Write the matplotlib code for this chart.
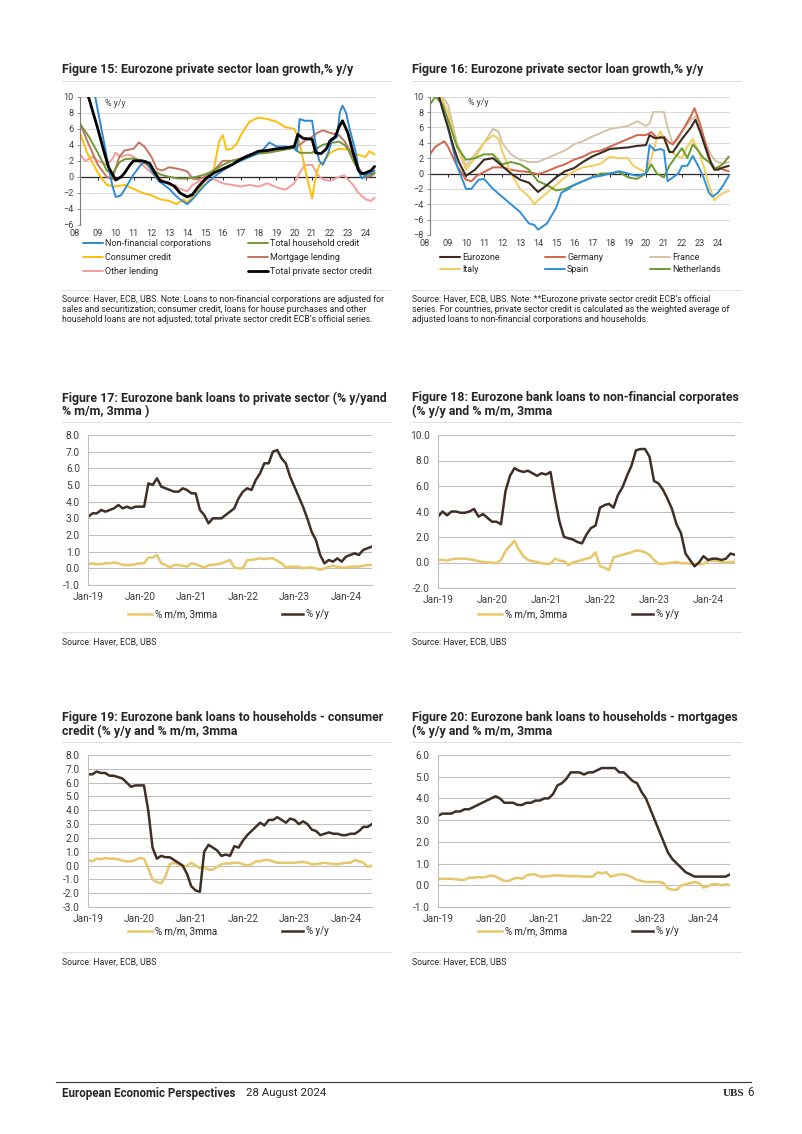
import numpy as np
import matplotlib
matplotlib.use("Agg")
import matplotlib.pyplot as plt
from matplotlib.lines import Line2D
from matplotlib.legend import Legend

plt.rcParams['font.family'] = ['Roboto', 'DejaVu Sans']

# ---------------- DATA ----------------
year_ticks = list(range(2008, 2025))
year_labels = ["%02d" % (y % 100) for y in year_ticks]

# Figure 15
f15_nfc_t = [2008.0, 2008.5, 2008.85, 2009.2, 2009.5, 2009.8, 2010.0, 2010.3, 2010.6, 2011.0, 2011.4, 2011.7,
             2012.0, 2012.4, 2012.7, 2013.0, 2013.3, 2013.6, 2014.0, 2014.3, 2014.6, 2015.0, 2015.5, 2016.0,
             2016.5, 2017.0, 2017.5, 2018.0, 2018.3, 2018.6, 2019.0, 2019.5, 2020.0, 2020.15, 2020.3, 2020.6,
             2021.0, 2021.2, 2021.4, 2021.6, 2021.9, 2022.1, 2022.4, 2022.55, 2022.7, 2022.9, 2023.1, 2023.4,
             2023.65, 2023.8, 2024.0, 2024.3, 2024.5]
f15_nfc_v = [14, 12, 10, 6, 2.5, -1.0, -2.5, -2.3, -1.2, 0.3, 1.5, 2.0,
             0.8, -0.5, -1.0, -1.5, -2.2, -2.8, -3.4, -2.8, -2.0, -1.0, 0.0, 0.8,
             1.5, 2.0, 2.5, 3.0, 3.5, 4.3, 3.8, 3.8, 3.6, 3.2, 7.2, 7.0,
             7.0, 4.0, 2.0, 1.5, 3.0, 4.5, 5.0, 8.0, 8.9, 8.0, 6.0, 3.5,
             0.5, -0.2, 0.2, 0.5, 0.8]

f15_hh_t = [2008.0, 2008.5, 2009.0, 2009.5, 2009.8, 2010.2, 2010.5, 2011.0, 2011.5, 2012.0, 2012.5, 2013.0,
            2013.5, 2014.0, 2014.5, 2015.0, 2015.5, 2016.0, 2016.5, 2017.0, 2017.5, 2018.0, 2018.5, 2019.0,
            2019.5, 2020.0, 2020.3, 2020.6, 2021.0, 2021.3, 2021.6, 2022.0, 2022.5, 2022.8, 2023.0, 2023.3,
            2023.6, 2023.8, 2024.0, 2024.3, 2024.5]
f15_hh_v = [6.6, 5.0, 3.0, 0.8, 0.3, 1.8, 2.2, 2.3, 2.0, 1.0, 0.3, 0.0,
            -0.2, -0.2, 0.0, 0.3, 0.8, 1.5, 2.0, 2.2, 2.5, 2.9, 3.0, 3.2,
            3.4, 3.6, 3.0, 3.0, 3.0, 3.6, 4.0, 4.2, 4.4, 4.0, 3.5, 2.0,
            0.8, 0.5, 0.3, 0.3, 0.5]

f15_cons_t = [2008.0, 2008.4, 2009.0, 2009.5, 2010.0, 2010.5, 2011.0, 2011.5, 2012.0, 2012.5, 2013.0, 2013.4,
              2013.8, 2014.0, 2014.5, 2015.0, 2015.5, 2015.8, 2016.0, 2016.2, 2016.5, 2016.8, 2017.0, 2017.5,
              2018.0, 2018.5, 2019.0, 2019.5, 2020.0, 2020.2, 2020.4, 2020.7, 2021.0, 2021.2, 2021.4, 2021.7,
              2022.0, 2022.5, 2023.0, 2023.5, 2023.8, 2024.0, 2024.2, 2024.5]
f15_cons_v = [5.5, 3.0, 0.5, -1.0, -1.2, -1.0, -1.5, -2.0, -2.3, -2.8, -3.0, -3.4,
              -2.8, -3.2, -2.0, -0.5, 1.0, 4.5, 5.2, 3.4, 3.5, 4.2, 5.2, 6.9,
              7.4, 7.2, 6.9, 6.2, 6.0, 5.0, 3.2, 0.0, -2.7, 0.0, 1.5, 2.0,
              3.0, 3.5, 3.4, 2.8, 2.6, 2.5, 3.2, 2.8]

f15_mort_t = [2008.0, 2008.5, 2009.0, 2009.5, 2009.8, 2010.2, 2010.5, 2011.0, 2011.3, 2011.6, 2012.0, 2012.3,
              2012.6, 2013.0, 2013.5, 2014.0, 2014.3, 2014.6, 2015.0, 2015.5, 2016.0, 2016.5, 2017.0, 2017.5,
              2018.0, 2018.5, 2019.0, 2019.5, 2020.0, 2020.3, 2020.6, 2021.0, 2021.3, 2021.6, 2022.0, 2022.5,
              2022.8, 2023.2, 2023.5, 2023.8, 2024.0, 2024.3, 2024.5]
f15_mort_v = [6.7, 4.0, 1.5, 0.0, -0.3, 2.5, 3.3, 3.5, 4.3, 3.8, 2.5, 1.0,
              0.8, 1.2, 1.0, 0.7, -0.2, -0.3, 0.0, 0.8, 2.0, 2.0, 2.3, 2.8,
              3.0, 3.2, 3.4, 3.6, 3.6, 4.0, 4.5, 5.0, 5.5, 5.8, 5.5, 5.2,
              4.5, 3.0, 1.5, 0.5, 0.0, 0.1, 0.4]

f15_oth_t = [2008.0, 2008.3, 2008.7, 2009.0, 2009.5, 2009.8, 2010.0, 2010.3, 2010.7, 2011.0, 2011.5, 2012.0,
             2012.3, 2012.7, 2013.0, 2013.3, 2013.6, 2014.0, 2014.3, 2014.7, 2015.0, 2015.5, 2016.0, 2016.5,
             2017.0, 2017.5, 2018.0, 2018.5, 2019.0, 2019.5, 2020.0, 2020.3, 2020.6, 2021.0, 2021.3, 2021.6,
             2022.0, 2022.5, 2022.8, 2023.0, 2023.3, 2023.6, 2024.0, 2024.3, 2024.5]
f15_oth_v = [2.8, 2.0, 2.5, 2.0, 1.5, 2.2, 3.0, 2.5, 2.8, 2.5, 1.5, 0.5,
             0.0, -0.5, -1.0, -1.0, -1.5, -1.8, -1.0, -0.5, -0.5, -0.3, -0.8, -1.0,
             -1.2, -1.0, -1.2, -0.8, -1.3, -1.6, -0.8, 0.5, 1.5, 1.5, 0.3, -0.3,
             -0.5, 0.0, 0.2, -0.3, -1.0, -2.0, -2.8, -3.0, -2.6]

f15_tot_t = [2008.0, 2008.25, 2008.5, 2008.8, 2009.0, 2009.3, 2009.6, 2010.0, 2010.3, 2010.5, 2010.8, 2011.0,
             2011.5, 2011.9, 2012.2, 2012.5, 2013.0, 2013.3, 2013.6, 2014.0, 2014.3, 2014.6, 2015.0, 2015.5,
             2016.0, 2016.5, 2017.0, 2017.5, 2018.0, 2018.5, 2019.0, 2019.5, 2020.0, 2020.2, 2020.5, 2021.0,
             2021.2, 2021.5, 2021.8, 2022.0, 2022.3, 2022.5, 2022.7, 2023.0, 2023.3, 2023.6, 2023.8, 2024.0,
             2024.3, 2024.5]
f15_tot_v = [11.5, 11.0, 9.8, 7.5, 6.0, 3.5, 1.2, -0.4, 0.0, 0.5, 1.5, 2.0,
             2.0, 1.7, 0.5, -0.5, -0.8, -1.2, -2.0, -2.5, -2.2, -1.3, -0.3, 0.5,
             1.0, 1.5, 2.2, 2.7, 3.2, 3.3, 3.5, 3.6, 3.8, 5.3, 4.8, 4.7,
             3.0, 2.9, 3.5, 4.5, 5.0, 6.2, 7.0, 5.5, 3.0, 0.8, 0.4, 0.5,
             0.8, 1.3]

# Figure 16
f16_ez_t = [2008.0, 2008.5, 2008.8, 2009.0, 2009.3, 2009.6, 2010.0, 2010.5, 2011.0, 2011.5, 2012.0, 2012.5,
            2013.0, 2013.5, 2014.0, 2014.5, 2015.0, 2015.5, 2016.0, 2016.5, 2017.0, 2017.5, 2018.0, 2018.5,
            2019.0, 2019.5, 2020.0, 2020.2, 2020.5, 2021.0, 2021.3, 2021.5, 2022.0, 2022.5, 2022.75, 2023.0,
            2023.5, 2023.8, 2024.0, 2024.3, 2024.6]
f16_ez_v = [11.5, 10.0, 7.5, 6.0, 3.5, 1.5, -0.3, 0.5, 1.8, 2.0, 1.0, 0.0,
            -0.8, -1.2, -2.4, -1.5, -0.5, 0.3, 0.7, 1.5, 2.2, 2.7, 3.2, 3.3,
            3.4, 3.6, 3.7, 5.0, 4.6, 4.7, 2.8, 2.8, 4.5, 6.0, 7.0, 5.5,
            2.0, 0.5, 0.5, 0.8, 1.0]

f16_de_t = [2008.0, 2008.3, 2008.8, 2009.0, 2009.5, 2010.0, 2010.3, 2010.6, 2011.0, 2011.5, 2012.0, 2012.5,
            2013.0, 2013.5, 2014.0, 2014.5, 2015.0, 2015.5, 2016.0, 2016.5, 2017.0, 2017.5, 2018.0, 2018.5,
            2019.0, 2019.5, 2020.0, 2020.3, 2020.6, 2021.0, 2021.3, 2021.5, 2022.0, 2022.5, 2022.7, 2023.0,
            2023.3, 2023.6, 2023.8, 2024.0, 2024.3, 2024.6]
f16_de_v = [2.5, 3.5, 4.2, 3.5, 1.0, -0.8, -1.0, -0.3, 0.2, 0.8, 0.8, 0.5,
            0.3, 0.2, -0.1, 0.3, 0.8, 1.2, 1.8, 2.2, 2.8, 3.0, 3.5, 4.0,
            4.5, 5.0, 5.0, 5.4, 4.7, 4.8, 4.0, 3.8, 5.5, 7.5, 8.5, 6.5,
            4.0, 1.5, 0.7, 0.8, 0.5, 0.3]

f16_fr_t = [2008.0, 2008.5, 2009.0, 2009.5, 2010.0, 2010.5, 2011.0, 2011.5, 2011.8, 2012.0, 2012.5, 2013.0,
            2013.5, 2014.0, 2014.5, 2015.0, 2015.5, 2016.0, 2016.5, 2017.0, 2017.5, 2018.0, 2018.5, 2019.0,
            2019.5, 2020.0, 2020.2, 2020.4, 2020.7, 2021.0, 2021.2, 2021.5, 2021.8, 2022.0, 2022.5, 2022.8,
            2023.0, 2023.3, 2023.6, 2023.8, 2024.0, 2024.3, 2024.6]
f16_fr_v = [11.5, 10.5, 9.0, 4.0, 1.0, 2.5, 4.0, 5.8, 5.5, 4.0, 2.5, 1.8,
            1.5, 1.5, 2.0, 2.5, 3.0, 3.8, 4.2, 4.8, 5.3, 5.8, 6.0, 6.2,
            6.8, 6.2, 6.5, 8.0, 8.0, 8.0, 6.0, 3.8, 4.5, 5.5, 7.0, 7.5,
            6.0, 4.0, 2.5, 1.8, 1.5, 1.3, 1.5]

f16_it_t = [2008.0, 2008.5, 2009.0, 2009.5, 2010.0, 2010.5, 2011.0, 2011.5, 2011.8, 2012.0, 2012.5, 2013.0,
            2013.5, 2013.8, 2014.0, 2014.5, 2015.0, 2015.5, 2016.0, 2016.5, 2017.0, 2017.5, 2018.0, 2018.5,
            2019.0, 2019.3, 2019.7, 2020.0, 2020.3, 2020.6, 2020.8, 2021.0, 2021.3, 2021.6, 2022.0, 2022.3,
            2022.6, 2022.9, 2023.2, 2023.5, 2023.8, 2024.0, 2024.3, 2024.6]
f16_it_v = [11.5, 10.5, 8.0, 3.5, 0.5, 2.0, 4.0, 5.0, 4.5, 3.0, 0.0, -2.0,
            -3.0, -4.0, -3.5, -2.5, -1.5, -0.5, 0.3, 0.8, 1.0, 1.3, 2.2, 2.0,
            2.0, 1.0, 0.5, 0.2, 2.0, 4.5, 5.5, 4.5, 3.0, 2.5, 2.0, 3.5,
            4.5, 3.0, 1.0, -1.5, -3.5, -3.0, -2.5, -2.3]

f16_es_t = [2008.0, 2008.5, 2009.0, 2009.5, 2010.0, 2010.3, 2010.7, 2011.0, 2011.5, 2012.0, 2012.5, 2013.0,
            2013.5, 2013.8, 2014.0, 2014.5, 2015.0, 2015.3, 2015.7, 2016.0, 2016.5, 2017.0, 2017.5, 2018.0,
            2018.5, 2019.0, 2019.5, 2020.0, 2020.2, 2020.5, 2020.8, 2021.0, 2021.2, 2021.5, 2021.8, 2022.0,
            2022.3, 2022.6, 2022.9, 2023.2, 2023.5, 2023.7, 2024.0, 2024.3, 2024.6]
f16_es_v = [13.0, 10.0, 6.0, 1.0, -2.0, -2.0, -0.8, -0.7, -2.0, -3.0, -4.0, -5.0,
            -6.5, -6.7, -7.3, -6.5, -4.5, -2.5, -2.0, -1.5, -1.0, -0.5, -0.3, 0.0,
            0.3, 0.0, -0.3, 0.0, 3.7, 3.0, 3.2, 3.0, -1.0, -0.5, 0.0, 1.0,
            1.0, 2.3, 1.0, -0.5, -2.5, -3.0, -2.5, -1.5, -0.3]

f16_nl_t = [2008.0, 2008.3, 2008.7, 2009.0, 2009.5, 2010.0, 2010.5, 2011.0, 2011.5, 2012.0, 2012.5, 2013.0,
            2013.5, 2014.0, 2014.5, 2015.0, 2015.5, 2016.0, 2016.5, 2017.0, 2017.5, 2018.0, 2018.5, 2019.0,
            2019.5, 2020.0, 2020.3, 2020.6, 2021.0, 2021.3, 2021.6, 2022.0, 2022.3, 2022.6, 2022.9, 2023.2,
            2023.5, 2023.8, 2024.0, 2024.3, 2024.6]
f16_nl_v = [9.0, 10.0, 9.0, 7.0, 3.5, 1.8, 2.0, 2.5, 2.5, 1.2, 1.5, 1.2,
            0.5, -1.0, -1.5, -2.2, -2.0, -1.5, -1.0, -0.5, 0.0, 0.0, 0.2, -0.5,
            -0.7, 0.0, 1.2, 0.0, -0.5, 1.0, 2.0, 3.3, 2.0, 3.8, 3.0, 2.0,
            1.5, 0.6, 0.8, 1.3, 2.2]

# Monthly charts: Jan-19 ... Jul-24
month_idx = list(range(67))
month_tick_idx = [0, 12, 24, 36, 48, 60]
month_tick_labels = ["Jan-19", "Jan-20", "Jan-21", "Jan-22", "Jan-23", "Jan-24"]

f17_yy = [3.1, 3.3, 3.3, 3.5, 3.4, 3.5, 3.6, 3.8, 3.6, 3.7, 3.6, 3.7,
          3.7, 3.7, 5.1, 5.0, 5.4, 4.9, 4.8, 4.7, 4.6, 4.6, 4.8, 4.7,
          4.5, 4.5, 3.5, 3.2, 2.7, 3.0, 3.0, 3.0, 3.2, 3.4, 3.6, 4.2,
          4.6, 4.8, 4.7, 5.3, 5.7, 6.3, 6.3, 7.0, 7.1, 6.6, 6.3, 5.5,
          4.9, 4.3, 3.7, 3.0, 2.2, 1.7, 0.8, 0.3, 0.5, 0.4, 0.6, 0.4,
          0.7, 0.8, 0.9, 0.8, 1.1, 1.2, 1.3]
f17_mm = [0.25, 0.3, 0.25, 0.25, 0.3, 0.3, 0.35, 0.3, 0.2, 0.2, 0.2, 0.25,
          0.3, 0.3, 0.65, 0.65, 0.8, 0.3, 0.2, 0.05, 0.2, 0.2, 0.15, 0.1,
          0.3, 0.25, 0.15, 0.05, 0.2, 0.2, 0.25, 0.3, 0.4, 0.5, 0.05, 0.0,
          0.0, 0.5, 0.5, 0.55, 0.6, 0.55, 0.6, 0.6, 0.45, 0.3, 0.05, 0.1,
          0.1, 0.1, 0.0, 0.05, 0.05, 0.0, -0.1, 0.0, 0.1, 0.15, 0.1, 0.05,
          0.05, 0.1, 0.1, 0.1, 0.15, 0.2, 0.2]

f18_yy = [3.6, 4.0, 3.7, 4.0, 4.0, 3.9, 3.9, 4.0, 4.2, 3.6, 3.8, 3.5,
          3.2, 3.2, 3.0, 5.6, 6.8, 7.4, 7.2, 7.1, 7.2, 7.0, 6.8, 7.0,
          6.9, 7.1, 5.0, 3.2, 2.0, 1.9, 1.8, 1.6, 1.5, 2.2, 2.7, 2.9,
          4.3, 4.5, 4.6, 4.3, 5.3, 5.9, 6.8, 7.6, 8.8, 8.9, 8.9, 8.3,
          6.4, 6.2, 5.7, 5.0, 4.2, 3.0, 2.3, 0.7, 0.2, -0.3, 0.0, 0.5,
          0.2, 0.3, 0.3, 0.2, 0.3, 0.7, 0.6]
f18_mm = [0.2, 0.2, 0.15, 0.25, 0.3, 0.3, 0.3, 0.25, 0.2, 0.1, 0.05, 0.0,
          0.0, -0.05, 0.2, 0.9, 1.3, 1.7, 1.0, 0.5, 0.2, 0.1, 0.05, -0.05,
          -0.1, -0.1, 0.3, 0.15, 0.1, -0.2, 0.0, 0.1, 0.2, 0.3, 0.4, 0.8,
          -0.3, -0.4, -0.6, 0.4, 0.5, 0.6, 0.7, 0.8, 0.95, 0.9, 0.8, 0.6,
          0.2, -0.1, -0.1, -0.05, 0.0, 0.05, -0.05, -0.05, -0.1, -0.1, -0.15, -0.1,
          0.1, 0.15, 0.1, 0.05, 0.0, 0.05, 0.05]

f19_yy = [6.6, 6.6, 6.8, 6.7, 6.7, 6.5, 6.5, 6.4, 6.3, 6.0, 5.7, 5.8,
          5.8, 5.8, 4.0, 1.3, 0.5, 0.7, 0.6, 0.6, 0.4, 0.2, 0.0, -0.6,
          -1.5, -1.8, -1.9, 1.0, 1.5, 1.3, 1.1, 0.7, 0.8, 0.7, 1.4, 1.3,
          1.8, 2.2, 2.5, 2.8, 3.1, 2.9, 3.3, 3.3, 3.5, 3.3, 3.1, 3.4,
          3.3, 3.0, 3.2, 3.0, 2.6, 2.5, 2.2, 2.3, 2.4, 2.3, 2.3, 2.2,
          2.2, 2.3, 2.3, 2.5, 2.8, 2.8, 3.0]
f19_mm = [0.4, 0.3, 0.5, 0.45, 0.55, 0.5, 0.5, 0.45, 0.35, 0.3, 0.3, 0.4,
          0.55, 0.5, -0.2, -1.0, -1.2, -1.3, -0.8, 0.1, 0.2, 0.1, -0.1, 0.0,
          0.2, 0.0, -0.2, -0.1, -0.3, -0.3, -0.1, 0.1, 0.15, 0.15, 0.2, 0.2,
          0.1, 0.0, 0.1, 0.3, 0.3, 0.4, 0.4, 0.3, 0.2, 0.2, 0.2, 0.2,
          0.2, 0.25, 0.25, 0.2, 0.1, 0.1, 0.15, 0.2, 0.15, 0.1, 0.1, 0.15,
          0.2, 0.2, 0.4, 0.3, 0.2, -0.1, 0.0]

f20_yy = [3.2, 3.3, 3.3, 3.3, 3.4, 3.4, 3.5, 3.5, 3.6, 3.7, 3.8, 3.9,
          4.0, 4.1, 4.0, 3.8, 3.8, 3.8, 3.7, 3.7, 3.8, 3.8, 3.9, 3.9,
          4.0, 4.0, 4.2, 4.6, 4.7, 4.9, 5.2, 5.2, 5.2, 5.1, 5.2, 5.2,
          5.3, 5.4, 5.4, 5.4, 5.4, 5.2, 5.2, 5.0, 4.8, 4.7, 4.3, 4.0,
          3.5, 3.0, 2.5, 2.0, 1.5, 1.2, 1.0, 0.8, 0.6, 0.5, 0.4, 0.4,
          0.4, 0.4, 0.4, 0.4, 0.4, 0.4, 0.5]
f20_mm = [0.3, 0.3, 0.3, 0.3, 0.28, 0.25, 0.25, 0.35, 0.35, 0.38, 0.35, 0.4,
          0.45, 0.4, 0.3, 0.2, 0.2, 0.3, 0.35, 0.3, 0.45, 0.5, 0.5, 0.4,
          0.4, 0.42, 0.45, 0.45, 0.45, 0.43, 0.42, 0.42, 0.42, 0.4, 0.4, 0.4,
          0.6, 0.55, 0.6, 0.4, 0.45, 0.5, 0.5, 0.45, 0.35, 0.25, 0.2, 0.15,
          0.15, 0.15, 0.15, 0.1, -0.15, -0.2, -0.2, 0.0, 0.05, 0.1, 0.15, 0.1,
          -0.1, -0.05, 0.05, 0.05, 0.0, 0.05, 0.0]

# ---------------- STYLE / LAYOUT ----------------
W, H = 802, 1134
fig = plt.figure(figsize=(W / 100, H / 100), dpi=100)
fig.patch.set_facecolor('white')

TXT = '#262626'
TICK = '#404040'
C_MM = '#e8c66a'
C_YY = '#3f2f26'
FS_TITLE = 8.9
FS_SRC = 6.3
FS_TOPTICK = 6.6
FS_TOPLEG = 6.5
FS_BOT = 7.3
FS_BOTLEG = 7.0


def axes_px(l, t, r, b):
    return fig.add_axes([l / W, 1 - b / H, (r - l) / W, (b - t) / H])


def text_px(x, y, s, **kw):
    kw.setdefault('va', 'center')
    kw.setdefault('ha', 'left')
    kw.setdefault('color', TXT)
    return fig.text(x / W, 1 - y / H, s, **kw)


def hline_px(x0, x1, y, color='#d9d9d9', lw=0.6):
    fig.add_artist(Line2D([x0 / W, x1 / W], [1 - y / H, 1 - y / H], color=color, lw=lw,
                          transform=fig.transFigure))


def legend_px(ax, handle, label, x, y, hl, fs):
    leg = Legend(ax, [handle], [label], loc='center left', bbox_to_anchor=(x / W, 1 - y / H),
                 bbox_transform=fig.transFigure, frameon=False, borderpad=0, borderaxespad=0,
                 handlelength=hl, handletextpad=0.25, fontsize=fs, labelcolor=TXT)
    ax.add_artist(leg)


def top_chart(box, ylim, xmax, series, pct_xy):
    ax = axes_px(*box)
    lines = []
    for tx, vy, color, lw in series:
        ln, = ax.plot(tx, vy, color=color, lw=lw, solid_joinstyle='round', solid_capstyle='round')
        lines.append(ln)
    ax.set_xlim(2008, xmax)
    ax.set_ylim(*ylim)
    ax.set_yticks(list(range(ylim[0], ylim[1] + 1, 2)))
    ax.yaxis.grid(True, color='#d9d9d9', lw=0.7)
    ax.set_axisbelow(True)
    for s in ['top', 'right', 'bottom']:
        ax.spines[s].set_visible(False)
    ax.spines['left'].set_color('#7f7f7f')
    ax.spines['left'].set_linewidth(0.8)
    ax.set_xticks(year_ticks)
    ax.set_xticklabels(year_labels)
    ax.get_xticklabels()[0].set_ha('right')
    ax.tick_params(axis='x', length=0, pad=3, labelsize=FS_TOPTICK, labelcolor=TICK)
    ax.tick_params(axis='y', length=2, width=0.6, color='#7f7f7f', pad=2.5, labelsize=FS_TOPTICK,
                   labelcolor=TICK)
    ax.axhline(0, color='#262626', lw=0.9, zorder=1.5)
    sec = ax.secondary_xaxis((0 - ylim[0]) / (ylim[1] - ylim[0]))
    sec.set_xticks(year_ticks[1:])
    sec.tick_params(length=2.5, width=0.7, color='#262626', direction='out', labelbottom=False)
    sec.spines['bottom'].set_visible(False)
    ax.text(pct_xy[0], pct_xy[1], '% y/y', transform=ax.transAxes, fontsize=6.3, color=TICK,
            va='center', ha='left')
    return ax, lines


def bottom_chart(box, ylim, step, mm, yy):
    ax = axes_px(*box)
    l_mm, = ax.plot(month_idx, mm, color=C_MM, lw=1.8, solid_joinstyle='round')
    l_yy, = ax.plot(month_idx, yy, color=C_YY, lw=1.8, solid_joinstyle='round')
    ax.set_xlim(0, 66)
    ax.set_ylim(*ylim)
    ticks = np.arange(ylim[0], ylim[1] + step / 2, step)
    ax.set_yticks(ticks)
    ax.set_yticklabels(["%.1f" % v for v in ticks])
    ax.yaxis.grid(True, color='#bfbfbf', lw=0.8)
    ax.set_axisbelow(True)
    for s in ['top', 'right']:
        ax.spines[s].set_visible(False)
    for s in ['left', 'bottom']:
        ax.spines[s].set_color('#bfbfbf')
        ax.spines[s].set_linewidth(0.8)
    ax.set_xticks(month_tick_idx)
    ax.set_xticklabels(month_tick_labels)
    ax.tick_params(axis='x', length=0, pad=5, labelsize=FS_BOT, labelcolor=TICK)
    ax.tick_params(axis='y', length=0, pad=6, labelsize=FS_BOT, labelcolor=TICK)
    return ax, l_mm, l_yy


# ---------------- Figure 15 ----------------
text_px(62, 70, 'Figure 15: Eurozone private sector loan growth,% y/y', fontsize=FS_TITLE, fontweight='bold')
hline_px(62, 391, 81)
s15 = [(f15_oth_t, f15_oth_v, '#f59c9c', 1.4),
       (f15_cons_t, f15_cons_v, '#fbbf0a', 1.4),
       (f15_mort_t, f15_mort_v, '#c27560', 1.4),
       (f15_hh_t, f15_hh_v, '#76963a', 1.4),
       (f15_nfc_t, f15_nfc_v, '#2f8ad0', 1.4),
       (f15_tot_t, f15_tot_v, '#000000', 2.0)]
ax15, ln15 = top_chart((80, 96.7, 375.5, 225), (-6, 10), 2024.55, s15, (0.085, 0.95))
leg15 = [(ln15[4], 'Non-financial corporations', 83, 243.3),
         (ln15[1], 'Consumer credit', 83, 257.7),
         (ln15[0], 'Other lending', 83, 271.7),
         (ln15[3], 'Total household credit', 248, 243.3),
         (ln15[2], 'Mortgage lending', 248, 257.7),
         (ln15[5], 'Total private sector credit', 248, 271.7)]
for h, lab, x, y in leg15:
    legend_px(ax15, h, lab, x, y, 2.2, FS_TOPLEG)
hline_px(62, 391, 290)
src15 = ["Source: Haver, ECB, UBS. Note: Loans to non-financial corporations are adjusted for",
         "sales and securitization; consumer credit, loans for house purchases and other",
         "household loans are not adjusted; total private sector credit ECB\u2019s official series."]
for i, s in enumerate(src15):
    text_px(62, 299.3 + 10 * i, s, fontsize=FS_SRC)

# ---------------- Figure 16 ----------------
text_px(412, 70, 'Figure 16: Eurozone private sector loan growth,% y/y', fontsize=FS_TITLE, fontweight='bold')
hline_px(412, 741, 81)
s16 = [(f16_fr_t, f16_fr_v, '#d5c3a5', 1.4),
       (f16_de_t, f16_de_v, '#d4654c', 1.4),
       (f16_it_t, f16_it_v, '#f2cd5c', 1.4),
       (f16_nl_t, f16_nl_v, '#6b9b2e', 1.4),
       (f16_es_t, f16_es_v, '#2f8fd8', 1.4),
       (f16_ez_t, f16_ez_v, '#3b2a20', 1.5)]
ax16, ln16 = top_chart((430, 96.7, 730, 235), (-8, 10), 2024.67, s16, (0.127, 0.955))
leg16 = [(ln16[5], 'Eurozone', 440, 257.7),
         (ln16[2], 'Italy', 440, 270),
         (ln16[1], 'Germany', 545, 257.7),
         (ln16[4], 'Spain', 545, 270),
         (ln16[0], 'France', 650, 257.7),
         (ln16[3], 'Netherlands', 650, 270)]
for h, lab, x, y in leg16:
    legend_px(ax16, h, lab, x, y, 2.2, FS_TOPLEG)
hline_px(412, 741, 290)
src16 = ["Source: Haver, ECB, UBS. Note: **Eurozone private sector credit ECB\u2019s official",
         "series. For countries, private sector credit is calculated as the weighted average of",
         "adjusted loans to non-financial corporations and households."]
for i, s in enumerate(src16):
    text_px(412, 299.3 + 10 * i, s, fontsize=FS_SRC)

# ---------------- Bottom charts ----------------
bottoms = [
    (62, ['Figure 17: Eurozone bank loans to private sector (% y/yand', '% m/m, 3mma )'], 398,
     (88.3, 435, 371.7, 585), (-1, 8), 1, f17_mm, f17_yy, 614, 642),
    (412, ['Figure 18: Eurozone bank loans to non-financial corporates', '(% y/y and % m/m, 3mma'], 398,
     (438, 435, 735, 588), (-2, 10), 2, f18_mm, f18_yy, 614, 642),
    (62, ['Figure 19: Eurozone bank loans to households - consumer', 'credit (% y/y and % m/m, 3mma'], 718,
     (88, 755, 372, 907), (-3, 8), 1, f19_mm, f19_yy, 931, 962),
    (412, ['Figure 20: Eurozone bank loans to households - mortgages', '(% y/y and % m/m, 3mma'], 718,
     (438, 755, 730, 907), (-1, 6), 1, f20_mm, f20_yy, 931, 962),
]
for x0, title, ty, box, ylim, step, mm, yy, ly, sy in bottoms:
    text_px(x0, ty, title[0], fontsize=FS_TITLE, fontweight='bold')
    text_px(x0, ty + 13.3, title[1], fontsize=FS_TITLE, fontweight='bold')
    hline_px(x0, x0 + 329, ty + 24)
    ax, l_mm, l_yy = bottom_chart(box, ylim, step, mm, yy)
    legend_px(ax, l_mm, '% m/m, 3mma', x0 + 66, ly, 2.5, FS_BOTLEG)
    legend_px(ax, l_yy, '% y/y', x0 + 220, ly, 2.2, FS_BOTLEG)
    hline_px(x0, x0 + 329, sy - 10)
    text_px(x0, sy, 'Source: Haver, ECB, UBS', fontsize=FS_SRC)

# ---------------- Footer ----------------
hline_px(56, 751, 1082, color='#333333', lw=0.8)
text_px(62, 1093, 'European Economic Perspectives', fontsize=8.3, fontweight='bold')
text_px(246, 1093, '28 August 2024', fontsize=8.2)
text_px(723, 1093, 'UBS', fontsize=8, fontweight='bold', family=['Liberation Serif', 'DejaVu Serif'])
text_px(747, 1093, '6', fontsize=8.3)

fig.savefig('out.png', dpi=100, facecolor='white')
